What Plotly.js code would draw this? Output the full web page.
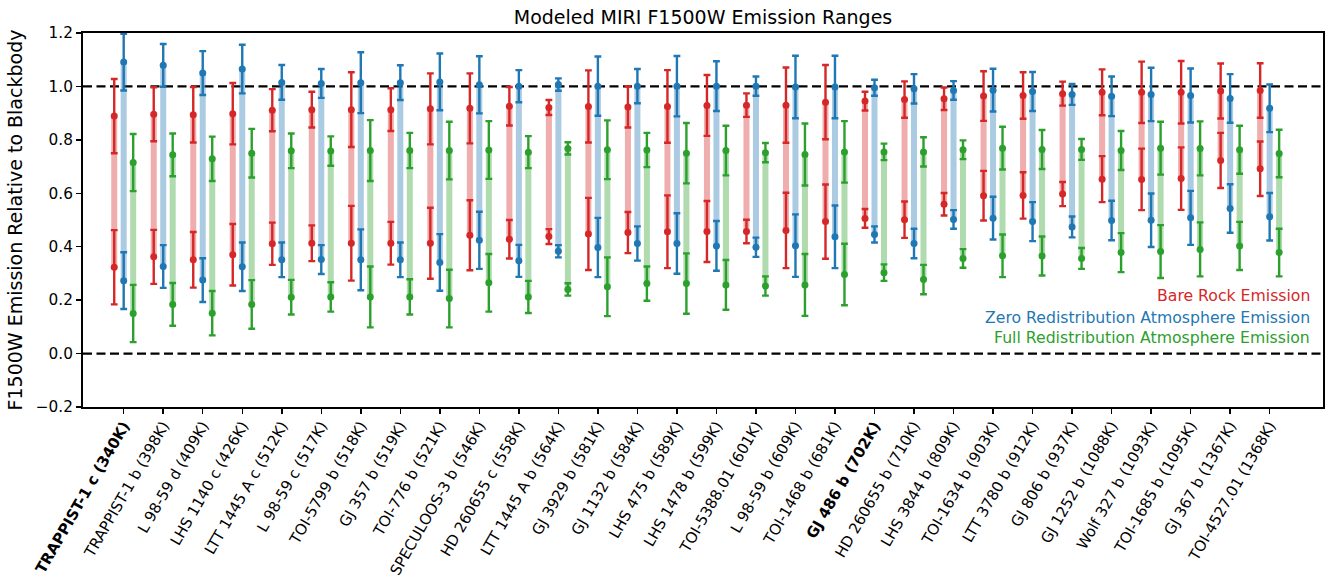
<!DOCTYPE html>
<html>
<head>
<meta charset="utf-8">
<script src="https://cdn.plot.ly/plotly-3.0.1.min.js"></script>
<style>html,body{margin:0;padding:0;background:#fff;}#chart{width:1327px;height:582px;}</style>
</head>
<body>
<div id="chart"></div>
<script>
const planets = ["TRAPPIST-1 c (340K)","TRAPPIST-1 b (398K)","L 98-59 d (409K)","LHS 1140 c (426K)","LTT 1445 A c (512K)","L 98-59 c (517K)","TOI-5799 b (518K)","GJ 357 b (519K)","TOI-776 b (521K)","SPECULOOS-3 b (546K)","HD 260655 c (558K)","LTT 1445 A b (564K)","GJ 3929 b (581K)","GJ 1132 b (584K)","LHS 475 b (589K)","LHS 1478 b (599K)","TOI-5388.01 (601K)","L 98-59 b (609K)","TOI-1468 b (681K)","GJ 486 b (702K)","HD 260655 b (710K)","LHS 3844 b (809K)","TOI-1634 b (903K)","LTT 3780 b (912K)","GJ 806 b (937K)","GJ 1252 b (1088K)","Wolf 327 b (1093K)","TOI-1685 b (1095K)","GJ 367 b (1367K)","TOI-4527.01 (1368K)"];
const boldPlanets = ["TRAPPIST-1 c (340K)","GJ 486 b (702K)"];

const rockHigh = [0.889,0.896,0.894,0.898,0.911,0.913,0.913,0.913,0.916,0.918,0.926,0.921,0.925,0.923,0.925,0.929,0.930,0.930,0.941,0.945,0.951,0.954,0.964,0.966,0.973,0.978,0.978,0.978,0.983,0.985];
const rockLow = [0.323,0.362,0.351,0.370,0.411,0.413,0.413,0.413,0.413,0.443,0.428,0.438,0.448,0.453,0.456,0.457,0.457,0.461,0.494,0.506,0.501,0.559,0.591,0.592,0.597,0.653,0.652,0.655,0.723,0.692];
const rockErr = [0.139,0.101,0.104,0.115,0.079,0.067,0.140,0.080,0.133,0.131,0.072,0.028,0.135,0.077,0.136,0.114,0.044,0.141,0.139,0.035,0.068,0.042,0.093,0.087,0.045,0.086,0.115,0.117,0.103,0.102];

const zeroHigh = [1.091,1.079,1.050,1.065,1.015,1.011,1.014,1.014,1.017,1.006,1.001,1.007,1.001,1.001,1.001,1.001,1.001,0.998,0.998,0.995,0.991,0.985,0.986,0.981,0.970,0.963,0.970,0.966,0.955,0.918];
const zeroLow = [0.273,0.326,0.275,0.325,0.351,0.352,0.351,0.351,0.341,0.424,0.347,0.383,0.397,0.412,0.412,0.403,0.398,0.404,0.437,0.446,0.412,0.502,0.507,0.494,0.474,0.498,0.499,0.508,0.543,0.512];
const zeroErr = [0.106,0.080,0.082,0.091,0.065,0.054,0.114,0.065,0.106,0.107,0.060,0.023,0.111,0.064,0.113,0.093,0.036,0.117,0.117,0.030,0.055,0.035,0.080,0.073,0.039,0.074,0.100,0.101,0.091,0.089];

const fullHigh = [0.715,0.744,0.729,0.750,0.759,0.758,0.760,0.760,0.760,0.762,0.754,0.768,0.763,0.762,0.750,0.760,0.752,0.745,0.755,0.755,0.755,0.763,0.769,0.764,0.764,0.760,0.769,0.768,0.763,0.749];
const fullLow = [0.150,0.184,0.151,0.184,0.211,0.212,0.212,0.212,0.206,0.265,0.212,0.240,0.250,0.262,0.262,0.257,0.253,0.257,0.296,0.303,0.277,0.356,0.366,0.365,0.356,0.378,0.382,0.390,0.403,0.378];
const fullErr = [0.107,0.080,0.083,0.091,0.065,0.055,0.114,0.066,0.108,0.108,0.060,0.023,0.110,0.064,0.113,0.093,0.036,0.116,0.115,0.031,0.055,0.035,0.080,0.073,0.039,0.073,0.099,0.101,0.090,0.089];

const seriesNames = ["Bare Rock Emission","Zero Redistribution Atmosphere Emission","Full Redistribution Atmosphere Emission"];
const seriesColors = ["#d62728","#1f77b4","#2ca02c"];
const paleColors = ["rgba(214,39,40,0.38)","rgba(31,119,180,0.38)","rgba(44,160,44,0.38)"];
const offsets = [-0.24, 0, 0.24];

const series = [
  {high: rockHigh, low: rockLow, err: rockErr},
  {high: zeroHigh, low: zeroLow, err: zeroErr},
  {high: fullHigh, low: fullLow, err: fullErr}
];

const traces = [];
series.forEach((s, k) => {
  const bx = [], by = [];
  planets.forEach((p, i) => {
    bx.push(i + offsets[k], i + offsets[k], null);
    by.push(s.low[i], s.high[i], null);
  });
  traces.push({
    type: 'scatter', mode: 'lines', x: bx, y: by,
    line: {color: paleColors[k], width: 6}, hoverinfo: 'skip', showlegend: false
  });
});
series.forEach((s, k) => {
  const px = [], py = [], pe = [];
  planets.forEach((p, i) => {
    px.push(i + offsets[k]); py.push(s.high[i]); pe.push(s.err[i]);
    px.push(i + offsets[k]); py.push(s.low[i]); pe.push(s.err[i]);
  });
  traces.push({
    type: 'scatter', mode: 'markers', x: px, y: py, name: seriesNames[k],
    marker: {color: seriesColors[k], size: 7},
    error_y: {type: 'data', array: pe, visible: true, color: seriesColors[k], thickness: 2.4, width: 3.4},
    showlegend: false
  });
});

const tickText = planets.map(p => boldPlanets.includes(p) ? '<b>' + p + '</b>' : p);

const legendY = [0.2968, 0.2406, 0.1845];
const annotations = seriesNames.map((n, k) => ({
  text: n, xref: 'paper', yref: 'paper', x: 0.9911, y: legendY[k],
  xanchor: 'right', yanchor: 'middle', showarrow: false,
  font: {family: 'DejaVu Sans', size: 15.7, color: seriesColors[k]}
}));

const layout = {
  width: 1327, height: 582,
  margin: {l: 83, r: 4, t: 33, b: 175},
  paper_bgcolor: '#fff', plot_bgcolor: '#fff',
  font: {family: 'DejaVu Sans', color: '#000'},
  title: {text: 'Modeled MIRI F1500W Emission Ranges', font: {family: 'DejaVu Sans', size: 19, color: '#000'},
          x: 0.5, xref: 'paper', y: 1 - 17/582, yref: 'container', yanchor: 'middle'},
  xaxis: {
    range: [-1.03, 30.35], tickmode: 'array', tickvals: planets.map((p, i) => i), ticktext: tickText,
    tickangle: -60, ticks: 'outside', ticklen: 5, tickwidth: 1.5, tickcolor: '#000', ticklabelstandoff: -3,
    showline: true, linewidth: 2, linecolor: '#000', mirror: true,
    showgrid: false, zeroline: false, tickfont: {family: 'DejaVu Sans', size: 15, color: '#000'}
  },
  yaxis: {
    range: [-0.2, 1.2], tickmode: 'linear', tick0: -0.2, dtick: 0.2, tickformat: '.1f',
    ticks: 'outside', ticklen: 5, tickwidth: 1.5, tickcolor: '#000',
    showline: true, linewidth: 2, linecolor: '#000', mirror: true,
    showgrid: false, zeroline: false, tickfont: {family: 'DejaVu Sans', size: 15.3, color: '#000'},
    title: {text: 'F1500W Emission Relative to Blackbody', font: {family: 'DejaVu Sans', size: 19, color: '#000'}, standoff: 8}
  },
  shapes: [1, 0].map(v => ({
    type: 'line', xref: 'paper', yref: 'y', x0: 0, x1: 1, y0: v, y1: v,
    line: {color: '#000', width: 2.2, dash: '9px,4.5px'}, layer: 'below'
  })),
  annotations: annotations,
  showlegend: false
};

Plotly.newPlot('chart', traces, layout, {displayModeBar: false, staticPlot: true});
</script>
</body>
</html>
